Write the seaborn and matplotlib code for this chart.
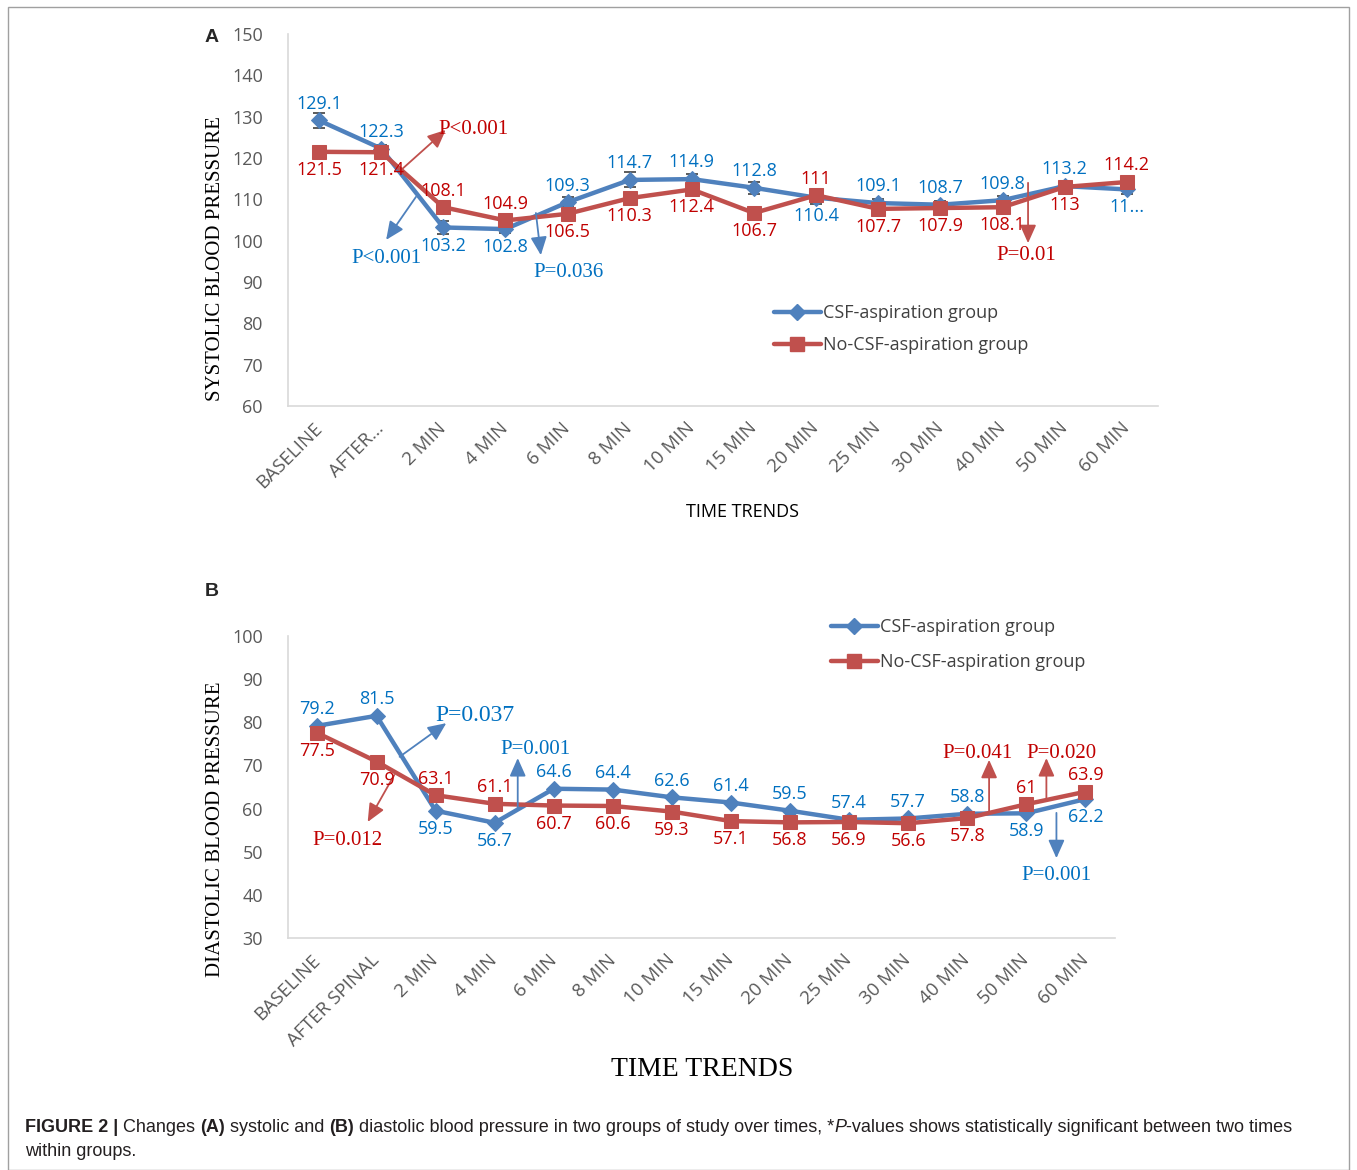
import numpy as np
import pandas as pd
import matplotlib
matplotlib.use("Agg")
import matplotlib.pyplot as plt
from matplotlib.patches import Rectangle
from matplotlib.lines import Line2D
import seaborn as sns

sns.set_style("white")
plt.rcParams['font.family'] = ['Open Sans', 'DejaVu Sans']

# ---------------- data ----------------
cats_a = ["BASELINE", "AFTER...", "2 MIN", "4 MIN", "6 MIN", "8 MIN", "10 MIN", "15 MIN",
          "20 MIN", "25 MIN", "30 MIN", "40 MIN", "50 MIN", "60 MIN"]
cats_b = ["BASELINE", "AFTER SPINAL", "2 MIN", "4 MIN", "6 MIN", "8 MIN", "10 MIN", "15 MIN",
          "20 MIN", "25 MIN", "30 MIN", "40 MIN", "50 MIN", "60 MIN"]

sbp_csf = [129.1, 122.3, 103.2, 102.8, 109.3, 114.7, 114.9, 112.8, 110.4, 109.1, 108.7, 109.8, 113.2, 112.4]
sbp_csf_err = [1.8, 0.8, 1.5, 1.0, 1.2, 1.8, 1.2, 1.5, 1.5, 1.0, 1.0, 1.0, 0.5, 1.0]
sbp_nocsf = [121.5, 121.4, 108.1, 104.9, 106.5, 110.3, 112.4, 106.7, 111.0, 107.7, 107.9, 108.1, 113.0, 114.2]
sbp_csf_lbl = ["129.1", "122.3", "103.2", "102.8", "109.3", "114.7", "114.9", "112.8", "110.4",
               "109.1", "108.7", "109.8", "113.2", "11..."]
sbp_nocsf_lbl = ["121.5", "121.4", "108.1", "104.9", "106.5", "110.3", "112.4", "106.7", "111",
                 "107.7", "107.9", "108.1", "113", "114.2"]

dbp_csf = [79.2, 81.5, 59.5, 56.7, 64.6, 64.4, 62.6, 61.4, 59.5, 57.4, 57.7, 58.8, 58.9, 62.2]
dbp_nocsf = [77.5, 70.9, 63.1, 61.1, 60.7, 60.6, 59.3, 57.1, 56.8, 56.9, 56.6, 57.8, 61.0, 63.9]
dbp_csf_lbl = ["79.2", "81.5", "59.5", "56.7", "64.6", "64.4", "62.6", "61.4", "59.5", "57.4",
               "57.7", "58.8", "58.9", "62.2"]
dbp_nocsf_lbl = ["77.5", "70.9", "63.1", "61.1", "60.7", "60.6", "59.3", "57.1", "56.8", "56.9",
                 "56.6", "57.8", "61", "63.9"]

groups = ["CSF-aspiration group", "No-CSF-aspiration group"]

# label placement: +1 above, -1 below
sbp_csf_pos = [1, 1, -1, -1, 1, 1, 1, 1, -1, 1, 1, 1, 1, -1]
sbp_nocsf_pos = [-1, -1, 1, 1, -1, -1, -1, -1, 1, -1, -1, -1, -1, 1]
dbp_csf_pos = [1, 1, -1, -1, 1, 1, 1, 1, 1, 1, 1, 1, -1, -1]
dbp_nocsf_pos = [-1, -1, 1, 1, -1, -1, -1, -1, -1, -1, -1, -1, 1, 1]

# P-value annotations: (text, start, end, text pos, colour key, size)
p_a = [("P<0.001", (1.32, 117.1), (2.04, 126.8), (2.48, 126.8), "red", 15),
       ("P<0.001", (1.56, 110.6), (1.08, 100.2), (1.09, 95.6), "blue", 15),
       ("P=0.036", (3.49, 106.7), (3.57, 96.5), (4.02, 92.4), "blue", 15),
       ("P=0.01", (11.41, 114.0), (11.41, 99.4), (11.38, 96.3), "red", 15)]
p_b = [("P=0.037", (1.39, 72.0), (2.18, 79.8), (2.66, 81.5), "blue", 17),
       ("P=0.012", (1.30, 67.8), (0.85, 56.9), (0.51, 52.5), "red", 15),
       ("P=0.001", (3.39, 60.1), (3.39, 71.7), (3.69, 73.6), "blue", 15),
       ("P=0.041", (11.37, 59.0), (11.37, 71.3), (11.17, 72.7), "red", 15),
       ("P=0.020", (12.34, 62.5), (12.34, 71.7), (12.59, 72.8), "red", 15),
       ("P=0.001", (12.51, 59.0), (12.51, 48.5), (12.51, 44.6), "blue", 15)]

# ---------------- style ----------------
LINE_BLUE = "#4F81BD"
LINE_RED = "#C0504D"
LBL_BLUE = "#0070C0"
LBL_RED = "#C00000"
TICK_C = "#595959"
SERIF = ["Liberation Serif", "DejaVu Serif"]

fig = plt.figure(figsize=(13.57, 11.70), dpi=100)
ax1 = fig.add_axes([0.2122, 0.6530, 0.6411, 0.3179])
ax2 = fig.add_axes([0.2122, 0.1983, 0.6094, 0.2581])


def draw_panel(ax, cats, csf, nocsf, csf_lbl, nocsf_lbl, csf_pos, nocsf_pos, ylim, pvals, err=None):
    n = len(cats)
    df = pd.DataFrame({
        "pos": list(range(n)) * 2,
        "value": list(csf) + list(nocsf),
        "group": [groups[0]] * n + [groups[1]] * n,
    })
    sns.lineplot(data=df[df.group == groups[0]], x="pos", y="value", color=LINE_BLUE,
                 marker="D", markersize=8, markeredgecolor=LINE_BLUE, linewidth=3.2, ax=ax,
                 legend=False, zorder=3)
    if err is not None:
        ax.errorbar(range(n), csf, yerr=err, fmt="none", ecolor="#404040", elinewidth=1,
                    capsize=4, capthick=1.2, zorder=2.5)
    sns.lineplot(data=df[df.group == groups[1]], x="pos", y="value", color=LINE_RED,
                 marker="s", markersize=10, markeredgecolor=LINE_RED, linewidth=3.2, ax=ax,
                 legend=False, zorder=4)
    for i in range(n):
        for vals, lbls, poss, col in ((csf, csf_lbl, csf_pos, LBL_BLUE),
                                      (nocsf, nocsf_lbl, nocsf_pos, LBL_RED)):
            off = 12 if poss[i] > 0 else -13
            ax.annotate(lbls[i], (i, vals[i]), xytext=(0, off), textcoords="offset points",
                        ha="center", va="center", color=col, fontsize=13, zorder=6)
    for txt, s, e, tp, ck, fs in pvals:
        c_line = LINE_BLUE if ck == "blue" else LINE_RED
        c_txt = LBL_BLUE if ck == "blue" else LBL_RED
        ax.annotate("", xy=e, xytext=s,
                    arrowprops=dict(arrowstyle="-|>,head_length=0.85,head_width=0.38",
                                    color=c_line, lw=1.3, mutation_scale=13, shrinkA=0, shrinkB=0),
                    zorder=5)
        ax.text(tp[0], tp[1], txt, ha="center", va="center", color=c_txt, fontsize=fs,
                family=SERIF, zorder=6)
    ax.set_xlim(-0.5, n - 0.5)
    ax.set_ylim(*ylim)
    ax.set_yticks(np.arange(ylim[0], ylim[1] + 1, 10))
    ax.set_xticks(range(n))
    ax.set_xticklabels(cats, rotation=45, ha="right", va="center", rotation_mode="anchor",
                       color=TICK_C, fontsize=13.5)
    ax.tick_params(axis="y", length=0, pad=18, labelcolor=TICK_C, labelsize=13)
    ax.tick_params(axis="x", length=0, pad=14)
    for sp in ("top", "right"):
        ax.spines[sp].set_visible(False)
    for sp in ("left", "bottom"):
        ax.spines[sp].set_color("#D9D9D9")
        ax.spines[sp].set_linewidth(1.2)
    ax.grid(False)
    ax.set_xlabel("")
    ax.set_ylabel("")


draw_panel(ax1, cats_a, sbp_csf, sbp_nocsf, sbp_csf_lbl, sbp_nocsf_lbl, sbp_csf_pos,
           sbp_nocsf_pos, (60, 150), p_a, err=sbp_csf_err)
draw_panel(ax2, cats_b, dbp_csf, dbp_nocsf, dbp_csf_lbl, dbp_nocsf_lbl, dbp_csf_pos,
           dbp_nocsf_pos, (30, 100), p_b)

handles = [Line2D([0], [0], color=LINE_BLUE, lw=3.2, marker="D", markersize=8),
           Line2D([0], [0], color=LINE_RED, lw=3.2, marker="s", markersize=10)]
for ax, anchor, lsp in ((ax1, (0.540, 0.317), 0.75), (ax2, (0.637, 1.113), 0.95)):
    leg = ax.legend(handles, groups, loc="upper left", bbox_to_anchor=anchor, frameon=False,
                    handlelength=2.6, handletextpad=0.1, labelspacing=lsp, fontsize=13)
    for t in leg.get_texts():
        t.set_color("#404040")

# axis titles
fig.text(0.1585, 1 - 259 / 1170, "SYSTOLIC BLOOD PRESSURE", rotation=90, ha="center", va="center",
         family=SERIF, fontsize=15, color="#000000")
fig.text(0.1585, 1 - 829 / 1170, "DIASTOLIC BLOOD PRESSURE", rotation=90, ha="center", va="center",
         family=SERIF, fontsize=15, color="#000000")
fig.text(743 / 1357, 1 - 512 / 1170, "TIME TRENDS", ha="center", va="center", fontsize=13,
         color="#000000")
fig.text(702 / 1357, 1 - 1070 / 1170, "TIME TRENDS", ha="center", va="center", family=SERIF,
         fontsize=20, color="#000000")
fig.text(212 / 1357, 1 - 37 / 1170, "A", ha="center", va="center", fontsize=14,
         fontweight="bold", family=["Liberation Sans"])
fig.text(212 / 1357, 1 - 591 / 1170, "B", ha="center", va="center", fontsize=14,
         fontweight="bold", family=["Liberation Sans"])

# frame
fig.patches.append(Rectangle((8 / 1357, 0.0), 1341 / 1357, 1 - 7 / 1170, transform=fig.transFigure,
                             fill=False, edgecolor="#A0A0A0", lw=1.0))

# caption with mixed styles
pieces = [("FIGURE 2 | ", "bold", "normal"), ("Changes ", "normal", "normal"),
          ("(A)", "bold", "normal"), (" systolic and ", "normal", "normal"),
          ("(B)", "bold", "normal"),
          (" diastolic blood pressure in two groups of study over times, *", "normal", "normal"),
          ("P", "normal", "italic"),
          ("-values shows statistically significant between two times", "normal", "normal")]
renderer = fig.canvas.get_renderer()
x = 25
y = 1 - 1127 / 1170
for txt, wt, st in pieces:
    t = fig.text(x / 1357, y, txt, ha="left", va="center", fontsize=13.0, fontweight=wt,
                 fontstyle=st, family=["Liberation Sans"], color="#231F20")
    bb = t.get_window_extent(renderer=renderer)
    x = bb.x1
fig.text(25 / 1357, 1 - 1152 / 1170, "within groups.", ha="left", va="center", fontsize=13.0,
         family=["Liberation Sans"], color="#231F20")

fig.savefig("out.png", dpi=100)
